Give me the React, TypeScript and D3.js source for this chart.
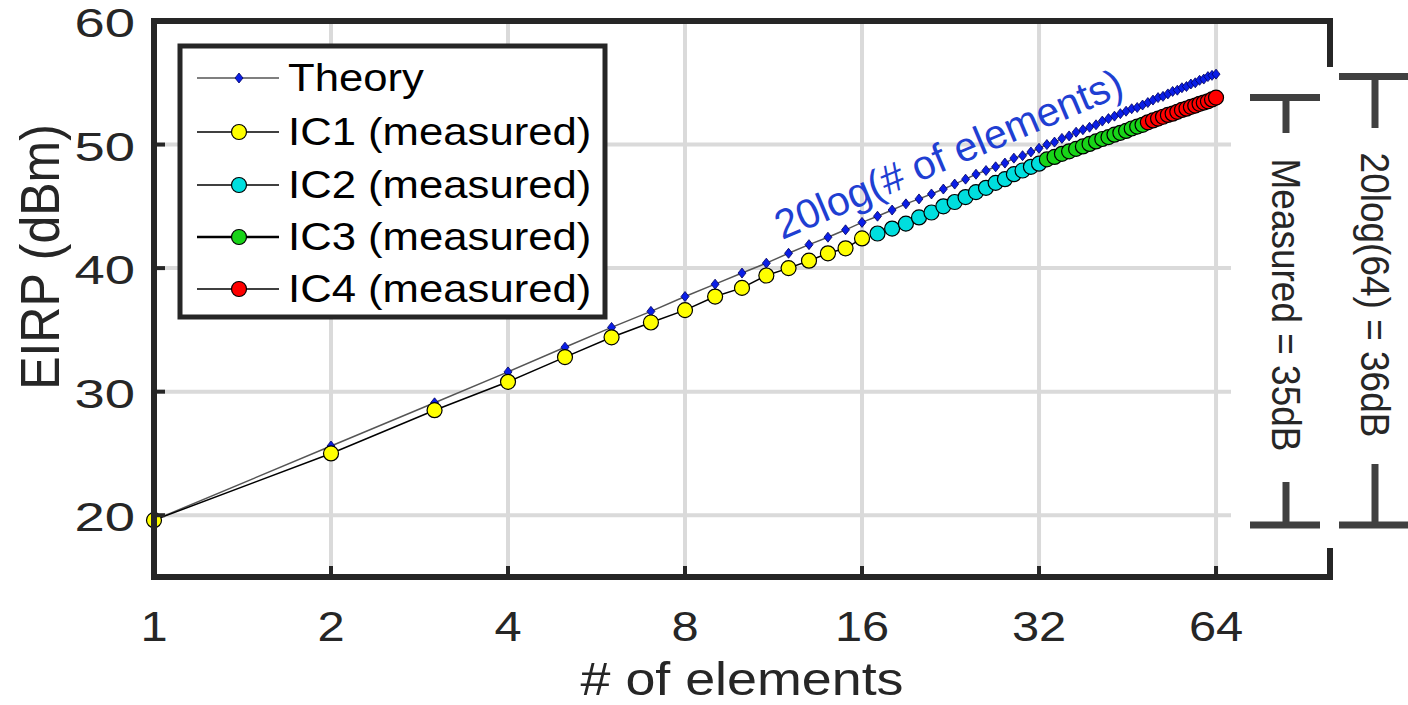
import React from "react";
import * as d3 from "d3";

// EIRP vs number of elements (theory is 20log(N) above the single-element level)
const xTicks = [1, 2, 4, 8, 16, 32, 64];
const yTicks = [20, 30, 40, 50, 60];

const theory = [
  19.6, 25.6, 29.1, 31.6, 33.6, 35.2, 36.5, 37.7, 38.7, 39.6,
  40.4, 41.2, 41.9, 42.5, 43.1, 43.7, 44.2, 44.7, 45.2, 45.6,
  46.0, 46.4, 46.8, 47.2, 47.6, 47.9, 48.2, 48.5, 48.9, 49.1,
  49.4, 49.7, 50.0, 50.2, 50.5, 50.7, 51.0, 51.2, 51.4, 51.6,
  51.9, 52.1, 52.3, 52.5, 52.7, 52.9, 53.0, 53.2, 53.4, 53.6,
  53.8, 53.9, 54.1, 54.3, 54.4, 54.6, 54.7, 54.9, 55.0, 55.2,
  55.3, 55.5, 55.6, 55.7,
];

// measured, 16 elements per IC
const ic1 = [19.6, 25.0, 28.5, 30.8, 32.8, 34.4, 35.6, 36.6, 37.7, 38.4, 39.4, 40.0, 40.6, 41.2, 41.6, 42.4];
const ic2 = [42.8, 43.2, 43.6, 44.1, 44.5, 45.0, 45.35, 45.75, 46.15, 46.5, 46.9, 47.2, 47.6, 47.9, 48.2, 48.45];
const ic3 = [48.8, 49.0, 49.25, 49.45, 49.65, 49.85, 50.05, 50.25, 50.45, 50.6, 50.8, 50.95, 51.1, 51.3, 51.45, 51.6];
const ic4 = [51.8, 51.95, 52.1, 52.25, 52.4, 52.5, 52.65, 52.8, 52.9, 53.05, 53.15, 53.3, 53.4, 53.5, 53.65, 53.8];

const series = [
  { name: "IC1 (measured)", values: ic1, start: 1, fill: "#ffff00" },
  { name: "IC2 (measured)", values: ic2, start: 17, fill: "#00dede" },
  { name: "IC3 (measured)", values: ic3, start: 33, fill: "#18d418" },
  { name: "IC4 (measured)", values: ic4, start: 49, fill: "#ff0000" },
];

const FONT = "'Liberation Sans', Arial, Helvetica, sans-serif";
const INK = "#262626";

const diamond = (w, h) => `M0,${-h}L${w},0L0,${h}L${-w},0Z`;

const App = () => {
  const width = 1408, height = 705;
  const plot = { left: 154, right: 1330, top: 21, bottom: 577 };

  const x = d3.scaleLog().base(2).domain([1, 100]).range([plot.left, plot.right]);
  const y = d3.scaleLinear().domain([15, 60]).range([plot.bottom, plot.top]);

  const line = d3.line().x(d => x(d[0])).y(d => y(d[1]));
  const theoryPts = theory.map((v, i) => [i + 1, v]);

  const legendRows = [78, 132, 185, 237, 289];
  const tickFs = 40;

  return (
    <svg width={width} height={height} style={{ position: "absolute", left: 0, top: 0, background: "#fff" }} fontFamily={FONT}>
      {/* grid */}
      {xTicks.slice(1).map(t => (
        <line key={"gx" + t} x1={x(t)} x2={x(t)} y1={plot.top} y2={plot.bottom} stroke="#dadada" strokeWidth={4} />
      ))}
      {yTicks.slice(0, -1).map(t => (
        <line key={"gy" + t} x1={plot.left} x2={plot.right} y1={y(t)} y2={y(t)} stroke="#dadada" strokeWidth={4} />
      ))}
      {/* annotation panel hides the right part of the grid */}
      <rect x={1231} y={66} width={width - 1231} height={549 - 66} fill="#fff" />

      {/* theory */}
      <path d={line(theoryPts)} fill="none" stroke="#555" strokeWidth={1.5} />
      {theoryPts.map(([n, v]) => (
        <path key={"t" + n} d={diamond(4, 5)} transform={`translate(${x(n)},${y(v)})`} fill="#0a1ee6" stroke="#000060" strokeWidth={0.8} />
      ))}

      {/* measured */}
      {series.map(s => {
        const pts = s.values.map((v, i) => [s.start + i, v]);
        return (
          <g key={s.name}>
            <path d={line(pts)} fill="none" stroke="#000" strokeWidth={1.5} />
            {pts.map(([n, v]) => (
              <circle key={n} cx={x(n)} cy={y(v)} r={7.5} fill={s.fill} stroke="#000" strokeWidth={1.2} />
            ))}
          </g>
        );
      })}

      {/* axes box */}
      <g stroke={INK} strokeWidth={6} fill="none" strokeLinecap="square">
        <line x1={plot.left} x2={plot.right} y1={plot.top} y2={plot.top} />
        <line x1={plot.left} x2={plot.right} y1={plot.bottom} y2={plot.bottom} />
        <line x1={plot.left} x2={plot.left} y1={plot.top} y2={plot.bottom} />
        <line x1={plot.right} x2={plot.right} y1={plot.top} y2={64} />
        <line x1={plot.right} x2={plot.right} y1={551} y2={plot.bottom} />
      </g>
      <g stroke={INK} strokeWidth={4}>
        {xTicks.slice(1).map(t => (
          <line key={"tx" + t} x1={x(t)} x2={x(t)} y1={plot.bottom} y2={plot.bottom - 11} />
        ))}
        {yTicks.slice(0, -1).map(t => (
          <line key={"ty" + t} x1={plot.left} x2={plot.left + 11} y1={y(t)} y2={y(t)} />
        ))}
      </g>

      {/* tick labels */}
      <g fill={INK} fontSize={tickFs}>
        {xTicks.map(t => (
          <text key={"lx" + t} transform={`translate(${x(t)},641) scale(1.22,1.05)`} textAnchor="middle">{t}</text>
        ))}
        {yTicks.map(t => (
          <text key={"ly" + t} transform={`translate(135,${y(t) + tickFs * 0.4}) scale(1.36,1)`} textAnchor="end">{t}</text>
        ))}
      </g>
      <text transform="translate(742,695) scale(1.17,1)" textAnchor="middle" fontSize={46} fill={INK}># of elements</text>
      <text transform="translate(59,257) rotate(-90) scale(1,1.1)" textAnchor="middle" fontSize={50} fill={INK}>EIRP (dBm)</text>

      {/* slope label */}
      <text transform="translate(954,167) rotate(-23)" textAnchor="middle" fontSize={41} fill="#1f3fd2">20log(# of elements)</text>

      {/* legend */}
      <rect x={180} y={46} width={425} height={271} fill="#fff" stroke={INK} strokeWidth={5} />
      <g>
        <line x1={197} x2={279} y1={legendRows[0]} y2={legendRows[0]} stroke="#555" strokeWidth={1.5} />
        <path d={diamond(4, 5)} transform={`translate(239,${legendRows[0]})`} fill="#0a1ee6" stroke="#000060" strokeWidth={0.8} />
        <text transform={`translate(288,${legendRows[0]}) scale(1.12,1)`} dominantBaseline="central" fontSize={39} fill="#000">Theory</text>
      </g>
      {series.map((s, i) => (
        <g key={"lg" + s.name}>
          <line x1={197} x2={279} y1={legendRows[i + 1]} y2={legendRows[i + 1]} stroke="#000" strokeWidth={i === 2 ? 2.5 : 1.5} />
          <circle cx={239} cy={legendRows[i + 1]} r={7.5} fill={s.fill} stroke="#000" strokeWidth={1.2} />
          <text transform={`translate(288,${legendRows[i + 1]}) scale(1.12,1)`} dominantBaseline="central" fontSize={39} fill="#000">{s.name}</text>
        </g>
      ))}

      {/* range brackets */}
      <g stroke="#404040" strokeWidth={7} fill="none">
        <line x1={1250} x2={1320} y1={y(53.8)} y2={y(53.8)} />
        <line x1={1286} x2={1286} y1={y(53.8)} y2={133} />
        <line x1={1286} x2={1286} y1={482} y2={y(19.2)} />
        <line x1={1250} x2={1320} y1={y(19.2)} y2={y(19.2)} />
        <line x1={1339} x2={1412} y1={y(55.5)} y2={y(55.5)} />
        <line x1={1375} x2={1375} y1={y(55.5)} y2={128} />
        <line x1={1375} x2={1375} y1={464} y2={y(19.2)} />
        <line x1={1339} x2={1412} y1={y(19.2)} y2={y(19.2)} />
      </g>
      <text transform="translate(1286,305) rotate(90) scale(1,1.1)" textAnchor="middle" dominantBaseline="central" fontSize={37} fill={INK}>Measured = 35dB</text>
      <text transform="translate(1375,295) rotate(90) scale(1,1.1)" textAnchor="middle" dominantBaseline="central" fontSize={37} fill={INK}>20log(64) = 36dB</text>
    </svg>
  );
};

export default App;
